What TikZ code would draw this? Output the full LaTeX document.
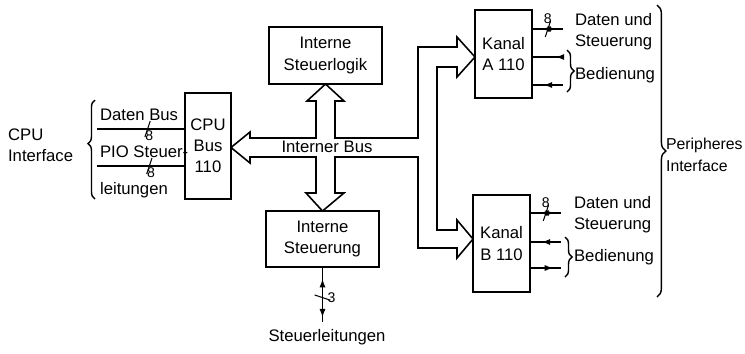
\documentclass[tikz,border=0pt]{standalone}
\usepackage{fontspec}
\setmainfont{Liberation Sans}
\usetikzlibrary{arrows.meta,decorations.pathreplacing,decorations.markings}

\tikzset{
  block/.style={draw, line width=0.9pt, align=center, inner sep=2pt},
  leitung/.style={line width=0.9pt},
  vor/.style={postaction={decorate, decoration={markings, mark=at position #1 with {\arrow{Latex[length=5pt,width=3.5pt]}}}}},
  rueck/.style={postaction={decorate, decoration={markings, mark=at position #1 with {\arrowreversed{Latex[length=5pt,width=3.5pt]}}}}},
  breite/.style={postaction={decorate, decoration={markings, mark=at position #1 with {\draw[line width=0.6pt] (-1.5pt,-4.5pt) -- (1.5pt,4.5pt);}}}},
  klammer/.style={decorate, decoration={brace, amplitude=#1}, line width=0.8pt},
  zahl/.style={font=\fontsize{8}{8}\selectfont, inner sep=0.5pt},
}

\begin{document}
\begin{tikzpicture}[x=0.02cm, y=-0.02cm, font=\fontsize{9.5}{12}\selectfont]
\useasboundingbox (0,0) rectangle (745,353);

% Bausteine
\node[block, minimum width=0.92cm, minimum height=2.12cm] (cpu) at (208,146) {CPU\\Bus\\110};
\node[block, minimum width=2.26cm, minimum height=1.14cm] (logik) at (325.5,55.5) {Interne\\Steuerlogik};
\node[block, minimum width=2.26cm, minimum height=1.12cm] (steuer) at (322.5,239) {Interne\\Steuerung};
\node[block, minimum width=1.14cm, minimum height=1.76cm] (kanalA) at (503.5,54) {Kanal\\A 110};
\node[block, minimum width=1.14cm, minimum height=1.94cm] (kanalB) at (501.5,243.5) {Kanal\\B 110};

% interner Bus (Hohlpfeile)
\draw[leitung, line join=miter]
  (250,138) -- (316,138) -- (316,101) -- (307,101) -- (325.5,84) -- (344,101) -- (335,101)
  -- (335,138) -- (418,138) -- (418,47) -- (457,47) -- (457,37) -- (475,57) -- (457,77)
  -- (457,67) -- (437,67) -- (437,230) -- (457,230) -- (457,220) -- (473,239) -- (457,258)
  -- (457,248) -- (418,248) -- (418,157) -- (335,157) -- (335,193) -- (344,193) -- (322.5,211)
  -- (306,193) -- (316,193) -- (316,157) -- (250,157) -- (250,163) -- (231,147.5) -- (250,132) -- cycle;
\node (ibus) at (327,147) {Interner Bus};

% CPU-Seite
\coordinate (db) at (97,129);
\coordinate (pio) at (97,166);
\draw[leitung, breite=0.58] (db) -- node[zahl, pos=0.6, below] {8} (db -| cpu.west);
\draw[leitung, breite=0.6] (pio) -- node[zahl, pos=0.62, below] {8} (pio -| cpu.west);
\node[anchor=west, inner sep=1pt] (dbtext) at (98,115) {Daten Bus};
\node[anchor=west, inner sep=1pt] (piotext) at (98,152) {PIO Steuer-};
\node[anchor=west, inner sep=1pt] (leittext) at (98,190) {leitungen};
\draw[klammer=4pt, decoration={aspect=0.56}] (95,199) -- (95,100);
\node[align=left, anchor=west, inner sep=1pt] (cpuif) at (6,145) {CPU\\Interface};

% Kanal A
\coordinate (aD) at (563,29);
\coordinate (aB1) at (563,57);
\coordinate (aB2) at (563,85);
\draw[leitung, rueck=0.3, vor=0.78, breite=0.5] (kanalA.east |- aD) -- node[zahl, pos=0.5, above=2pt] {8} (aD);
\draw[leitung, rueck=0.75] (kanalA.east |- aB1) -- (aB1);
\draw[leitung, rueck=0.35] (kanalA.east |- aB2) -- (aB2);
\node[align=left, anchor=west, inner sep=1pt] (aDtext) at (573,32) {Daten und\\Steuerung};
\draw[klammer=4pt] (567,50) -- (567,92);
\node[anchor=west, inner sep=1pt] (aBtext) at (573,75) {Bedienung};

% Kanal B
\coordinate (bD) at (561,213);
\coordinate (bB1) at (561,242);
\coordinate (bB2) at (561,268);
\draw[leitung, rueck=0.3, vor=0.78, breite=0.5] (kanalB.east |- bD) -- node[zahl, pos=0.5, above=2pt] {8} (bD);
\draw[leitung, rueck=0.35] (kanalB.east |- bB1) -- (bB1);
\draw[leitung, vor=0.75] (kanalB.east |- bB2) -- (bB2);
\node[align=left, anchor=west, inner sep=1pt] (bDtext) at (572,215) {Daten und\\Steuerung};
\draw[klammer=4pt] (565,237) -- (565,277);
\node[anchor=west, inner sep=1pt] (bBtext) at (572,257) {Bedienung};

% Peripheres Interface
\draw[klammer=5pt] (657,5) -- (657,297);
\node[align=left, anchor=west, inner sep=1pt, font=\fontsize{9}{12.5}\selectfont] (perif) at (664,155) {Peripheres\\Interface};

% Steuerleitungen
\coordinate (sl) at (322.5,322);
\draw[leitung, rueck=0.2, vor=0.92, breite=0.55] (steuer.south) -- node[zahl, pos=0.55, right=2pt] {3} (sl);
\node (sltext) at (327,337) {Steuerleitungen};
\end{tikzpicture}
\end{document}
